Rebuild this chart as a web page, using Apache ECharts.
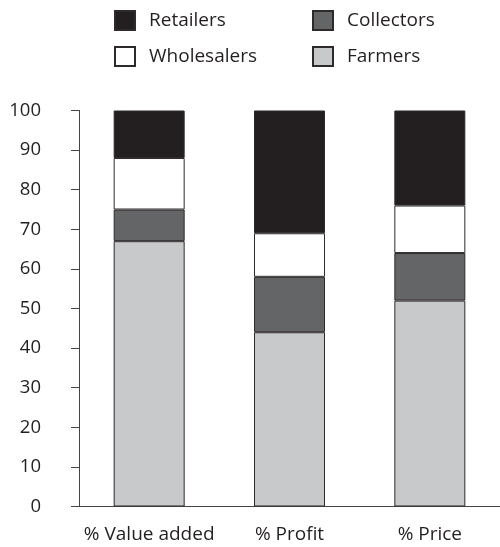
<!DOCTYPE html>
<html>
<head>
<meta charset="utf-8">
<script src="https://cdn.jsdelivr.net/npm/echarts@6/dist/echarts.min.js"></script>
<style>html,body{margin:0;padding:0;background:#fff;}#c{width:500px;height:547px;}</style>
</head>
<body>
<div id="c"></div>
<script>
var categories = ['% Value added', '% Profit', '% Price'];
var farmers = [67, 44, 52];
var collectors = [8, 14, 12];
var wholesalers = [13, 11, 12];
var retailers = [12, 31, 24];
var yTicks = [0, 10, 20, 30, 40, 50, 60, 70, 80, 90, 100];

var FONT = '"Open Sans", "Noto Sans", sans-serif';
var TXT = '#231f20';
var chart = echarts.init(document.getElementById('c'), null, {renderer: 'canvas'});

function legend(name, left, top) {
  return {
    data: [name], left: left, top: top, orient: 'horizontal', icon: 'rect',
    itemWidth: 20, itemHeight: 19, padding: 0, selectedMode: false,
    textStyle: {fontFamily: FONT, fontSize: 19, color: TXT, padding: [0, 0, 0, 9]}
  };
}
function bar(name, data, color) {
  return {
    name: name, type: 'bar', stack: 'all', data: data, barWidth: 71,
    itemStyle: {color: color, borderColor: '#2e2a2b', borderWidth: 1},
    emphasis: {disabled: true}
  };
}

chart.setOption({
  animation: false,
  legend: [
    legend('Retailers', 114, 10),
    legend('Collectors', 312, 10),
    legend('Wholesalers', 114, 46),
    legend('Farmers', 312, 46)
  ],
  grid: {left: 79, top: 110.5, bottom: 40.5, right: -4, containLabel: false},
  xAxis: {
    type: 'category', data: categories,
    axisLine: {show: true, lineStyle: {color: '#444', width: 1}},
    axisTick: {show: false},
    axisLabel: {fontFamily: FONT, fontSize: 19, color: TXT, margin: 19, interval: 0}
  },
  yAxis: {
    type: 'value', min: 0, max: 100, interval: 10,
    axisLine: {show: true, lineStyle: {color: '#444', width: 1}},
    axisTick: {show: true, length: 8, inside: false, lineStyle: {color: '#444'}},
    splitLine: {show: false},
    axisLabel: {fontFamily: FONT, fontSize: 18.5, color: TXT, margin: 38,
      formatter: function (v) { return yTicks.indexOf(v) >= 0 ? String(v) : ''; }}
  },
  series: [
    bar('Farmers', farmers, '#c8c9cb'),
    bar('Collectors', collectors, '#646567'),
    bar('Wholesalers', wholesalers, '#ffffff'),
    bar('Retailers', retailers, '#231f20')
  ]
});
</script>
</body>
</html>
